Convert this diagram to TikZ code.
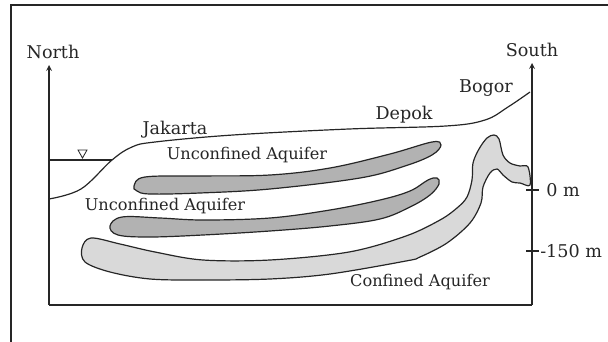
\documentclass[tikz,border=0pt]{standalone}
\usepackage{fontspec}
\setmainfont{DejaVu Serif}
\usepackage{xcolor}
\usetikzlibrary{arrows.meta, positioning}
\definecolor{linegray}{HTML}{262626}
\definecolor{clayfill}{HTML}{B2B2B2}
\definecolor{sandfill}{HTML}{D9D9D9}
\tikzstyle{section-line} = [draw=linegray, line width=0.85pt]
\tikzstyle{arrow-axis} = [section-line, ->, >=stealth]
\tikzstyle{aquifer-dark} = [section-line, fill=clayfill]
\tikzstyle{aquifer-light} = [section-line, fill=sandfill]
\tikzstyle{place-label} = [text=linegray, inner sep=0pt, font=\fontsize{12.5}{14}\selectfont]
\tikzstyle{layer-label} = [text=linegray, inner sep=0pt, font=\fontsize{11.5}{13}\selectfont]

\begin{document}
\begin{tikzpicture}[x=0.025cm, y=-0.025cm]
        \useasboundingbox (0,0) rectangle (608,342);
        \clip (0,0) rectangle (608,342);
        % outer frame
        \draw [draw=linegray, line width=1pt] (11,350) -- (11,5) -- (620,5);

        \coordinate (north-top) at (49,65);
        \coordinate (origin) at (49,305);
        \coordinate (south-foot) at (532,305);
        \coordinate (south-top) at (532,63);

        \draw [arrow-axis] (origin) -- (north-top);
        \draw [arrow-axis] (south-foot) -- (south-top);
        \draw [section-line] (origin) -- (south-foot);

        \node [place-label] (north) at (53,52) {North};
        \node [place-label] (south) at (532,50) {South};

        % depth ticks on the south axis
        \coordinate (level-zero) at (532,190);
        \coordinate (level-deep) at (532,251);
        \draw [section-line] ([xshift=-4]level-zero) -- ([xshift=5]level-zero);
        \draw [section-line] ([xshift=-4]level-deep) -- ([xshift=5]level-deep);
        \node [place-label, anchor=west] (zero) at (546,190) {0 m};
        \node [place-label, anchor=west] (deep) at (540,251) {-150 m};

        % sea level
        \coordinate (sea-end) at (112,160);
        \draw [section-line] (49,160) -- (sea-end);
        \draw [section-line, line width=0.6pt] (78,150) -- (87,150) -- (82.5,158) -- cycle;

        % ground surface
        \draw [section-line] plot [smooth, tension=0.6] coordinates {
                (49,199) (81,189) (112,160) (132,147) (155,142) (233,135)
                (349,129) (446,126) (485,120) (508,107) (530,92)};

        \node [place-label] (jakarta) at (175,130) {Jakarta};
        \node [place-label] (depok) at (404,115) {Depok};
        \node [place-label] (bogor) at (486,88) {Bogor};

        % aquifers
        \draw [aquifer-dark] plot [smooth cycle, tension=0.6] coordinates {
                (134,186) (145,177) (200,176) (270,175) (330,168) (390,154)
                (432,142) (441,145) (432,155) (405,166) (360,178) (270,189)
                (200,193) (150,194) (137,191)};
        \draw [aquifer-dark] plot [smooth cycle, tension=0.6] coordinates {
                (110,226) (122,217) (160,218) (203,220) (270,218) (330,210)
                (380,200) (410,191) (428,180) (437,178) (439,184) (430,195)
                (410,207) (380,219) (330,226) (270,231) (203,235) (150,237)
                (118,235)};
        \draw [aquifer-light] plot [smooth cycle, tension=0.55] coordinates {
                (91,238) (120,244) (155,252) (203,260) (270,260) (349,252)
                (406,236) (440,220) (457,208) (467,197) (472,180) (473,163)
                (479,149) (487,138) (494,135) (499,139) (503,155) (510,163)
                (520,166) (528,167) (530,185) (520,183) (512,182) (503,175)
                (497,169) (490,173) (483,187) (481,203) (470,223) (447,243)
                (420,257) (406,261) (330,274) (270,279) (203,280) (150,279)
                (110,272) (85,262) (82,248)};

        \node [layer-label] (upper-label) at (247,155) {Unconfined Aquifer};
        \node [layer-label] (lower-label) at (165,206) {Unconfined Aquifer};
        \node [layer-label] (confined-label) at (420,282) {Confined Aquifer};
\end{tikzpicture}
\end{document}
